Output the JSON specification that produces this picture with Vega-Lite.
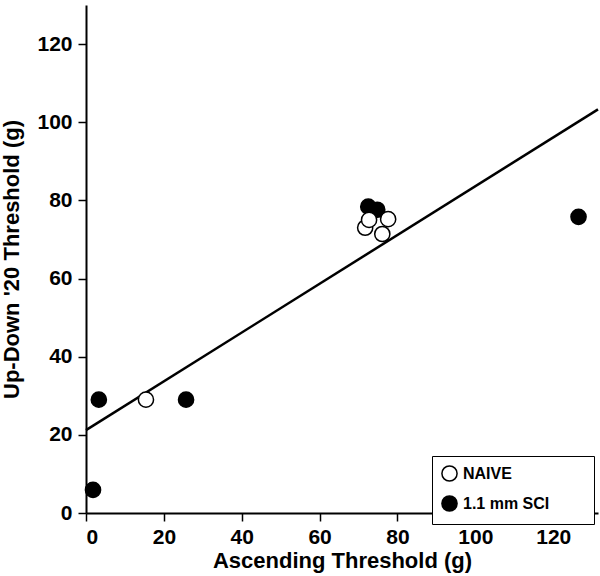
{
  "$schema": "https://vega.github.io/schema/vega-lite/v6.json",
  "width": 512,
  "height": 508,
  "autosize": {"type": "none"},
  "padding": {"left": 86, "top": 5, "right": 2, "bottom": 63},
  "background": "white",
  "config": {
    "view": {"stroke": null},
    "font": "Liberation Sans",
    "axis": {
      "grid": false,
      "domainColor": "black",
      "domainWidth": 2,
      "tickColor": "black",
      "tickWidth": 1.5,
      "tickSize": 8,
      "labelFont": "Liberation Sans",
      "labelFontWeight": "bold",
      "labelFontSize": 21,
      "labelColor": "black",
      "titleFont": "Liberation Sans",
      "titleFontWeight": "bold",
      "titleFontSize": 22,
      "titleColor": "black"
    }
  },
  "datasets": {
    "points": [
      {"x": 1.8, "y": 5.9, "group": "1.1 mm SCI"},
      {"x": 3.3, "y": 29, "group": "1.1 mm SCI"},
      {"x": 25.7, "y": 29, "group": "1.1 mm SCI"},
      {"x": 72.5, "y": 78.4, "group": "1.1 mm SCI"},
      {"x": 74.8, "y": 77.6, "group": "1.1 mm SCI"},
      {"x": 126.5, "y": 75.8, "group": "1.1 mm SCI"},
      {"x": 15.4, "y": 29, "group": "NAIVE"},
      {"x": 71.7, "y": 73, "group": "NAIVE"},
      {"x": 72.7, "y": 75, "group": "NAIVE"},
      {"x": 76.1, "y": 71.4, "group": "NAIVE"},
      {"x": 77.6, "y": 75.2, "group": "NAIVE"}
    ],
    "fit": [
      {"x": 0, "y": 21.2},
      {"x": 131.5, "y": 103.3}
    ]
  },
  "layer": [
    {
      "data": {"name": "fit"},
      "mark": {"type": "line", "color": "black", "strokeWidth": 2.5},
      "encoding": {
        "x": {"field": "x", "type": "quantitative", "scale": {"domain": [0, 131.5], "nice": false, "zero": false},
          "axis": {"values": [0, 20, 40, 60, 80, 100, 120], "title": "Ascending Threshold (g)", "labelPadding": 5, "titlePadding": 3}},
        "y": {"field": "y", "type": "quantitative", "scale": {"domain": [0, 130], "nice": false},
          "axis": {"values": [0, 20, 40, 60, 80, 100, 120], "title": "Up-Down '20 Threshold (g)", "labelPadding": 6, "titlePadding": 13}}
      }
    },
    {
      "data": {"name": "points"},
      "mark": {"type": "point", "shape": "circle", "filled": true, "size": 230, "stroke": "black", "strokeWidth": 1.5, "opacity": 1},
      "encoding": {
        "x": {"field": "x", "type": "quantitative"},
        "y": {"field": "y", "type": "quantitative"},
        "fill": {
          "field": "group",
          "type": "nominal",
          "scale": {"domain": ["NAIVE", "1.1 mm SCI"], "range": ["white", "black"]},
          "legend": {
            "title": null,
            "orient": "none",
            "legendX": 346,
            "legendY": 451,
            "strokeColor": "black",
            "fillColor": "white",
            "padding": 9,
            "rowPadding": 7,
            "symbolType": "circle",
            "symbolSize": 230,
            "symbolStrokeColor": "black",
            "symbolStrokeWidth": 1.5,
            "labelFont": "Liberation Sans",
            "labelFontWeight": "bold",
            "labelFontSize": 16,
            "labelColor": "black",
            "labelOffset": 5,
            "labelLimit": 300,
            "labelExpr": "datum.label + '\u00a0\u00a0\u00a0\u00a0\u00a0\u00a0\u00a0\u00a0\u200b'"
          }
        }
      }
    }
  ]
}
